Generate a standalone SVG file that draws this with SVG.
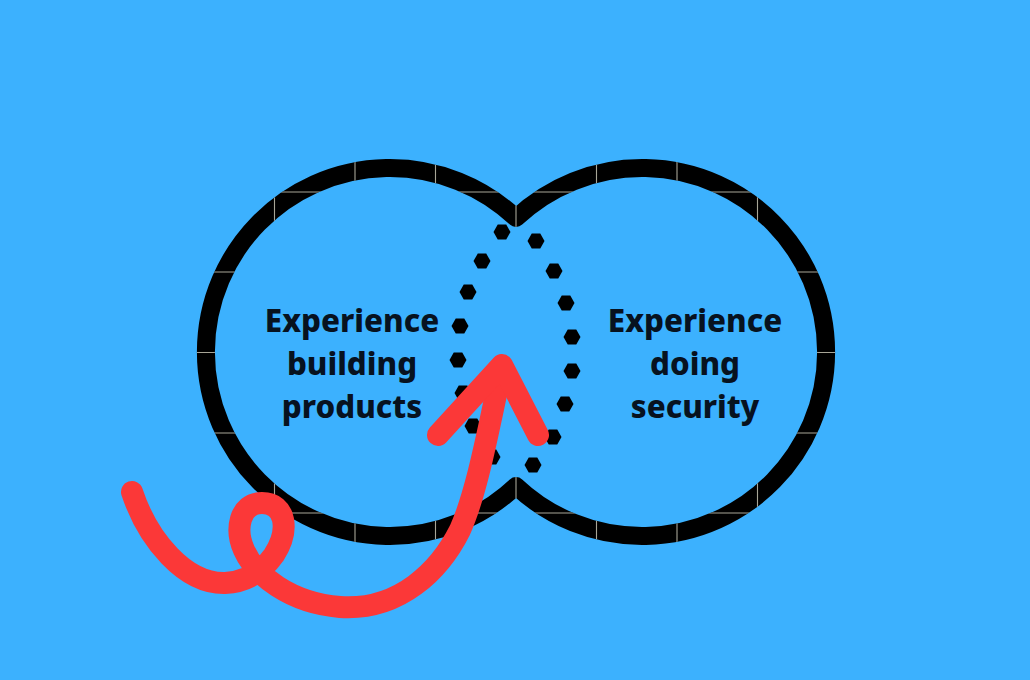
<svg xmlns="http://www.w3.org/2000/svg" xmlns:xlink="http://www.w3.org/1999/xlink" width="1030" height="680" viewBox="0 0 1030 680">
  <style>
    .outline { fill: none; stroke: #000; stroke-width: 18; stroke-linejoin: round; }
    .grid { stroke: #a7a597; stroke-width: 1.1; fill: none; }
    .label { font-family: "Noto Sans", "Open Sans", "Liberation Sans", sans-serif; font-weight: 800; font-size: 31.3px; fill: #07121f; text-anchor: middle; }
    .dot { fill: #000; }
    .arrow { fill: none; stroke: #fb3838; stroke-width: 22; stroke-linecap: round; stroke-linejoin: round; }
  </style>
  <defs>
    <path id="union" d="M516,218 A184,184 0 1 0 516,486 A184,184 0 1 0 516,218 Z"/>
    <polygon id="hx" points="-8.5,0 -4.25,-7.4 4.25,-7.4 8.5,0 4.25,7.4 -4.25,7.4"/>
    <mask id="strokeMask" maskUnits="userSpaceOnUse" x="0" y="0" width="1030" height="680">
      <use xlink:href="#union" fill="none" stroke="#fff" stroke-width="18" stroke-linejoin="round"/>
    </mask>
  </defs>
  <rect width="1030" height="680" fill="#3cb1fe"/>

  <g id="venn-outline">
    <use xlink:href="#union" class="outline"/>
    <g mask="url(#strokeMask)" class="grid">
      <path d="M274.5,0V680M355,0V680M435.5,0V680M516,0V680M596.5,0V680M677,0V680M757.5,0V680M194.5,0V680M838,0V680"/>
      <path d="M0,192H1030M0,272H1030M0,352.5H1030M0,433H1030M0,513H1030"/>
    </g>
  </g>

  <g id="node-building">
    <text class="label" x="352" y="332">Experience</text>
    <text class="label" x="352" y="375">building</text>
    <text class="label" x="352" y="418">products</text>
  </g>

  <g id="node-security">
    <text class="label" x="695" y="332">Experience</text>
    <text class="label" x="695" y="375">doing</text>
    <text class="label" x="695" y="418">security</text>
  </g>

  <g id="intersection-dots">
    <use xlink:href="#hx" class="dot" x="502" y="232"/>
    <use xlink:href="#hx" class="dot" x="536" y="241"/>
    <use xlink:href="#hx" class="dot" x="482" y="261"/>
    <use xlink:href="#hx" class="dot" x="554" y="271"/>
    <use xlink:href="#hx" class="dot" x="468" y="292"/>
    <use xlink:href="#hx" class="dot" x="566" y="303"/>
    <use xlink:href="#hx" class="dot" x="460" y="326"/>
    <use xlink:href="#hx" class="dot" x="572" y="337"/>
    <use xlink:href="#hx" class="dot" x="458" y="360"/>
    <use xlink:href="#hx" class="dot" x="572" y="371"/>
    <use xlink:href="#hx" class="dot" x="463" y="393"/>
    <use xlink:href="#hx" class="dot" x="565" y="404"/>
    <use xlink:href="#hx" class="dot" x="473" y="426"/>
    <use xlink:href="#hx" class="dot" x="553" y="437"/>
    <use xlink:href="#hx" class="dot" x="492" y="457"/>
    <use xlink:href="#hx" class="dot" x="533" y="465"/>
  </g>

  <g id="connectors">
    <path class="arrow" d="M132,492 C148,540 185,584 225,583 C245,582 262,572 274,555 C290,530 286,503 262,503 C239,503 235,530 244,550 C255,575 290,603 340,607 C400,611 440,570 460,530 C478,490 490,420 502,367"/>
    <path class="arrow" d="M438,435 L502,365 L538,435"/>
  </g>
</svg>
